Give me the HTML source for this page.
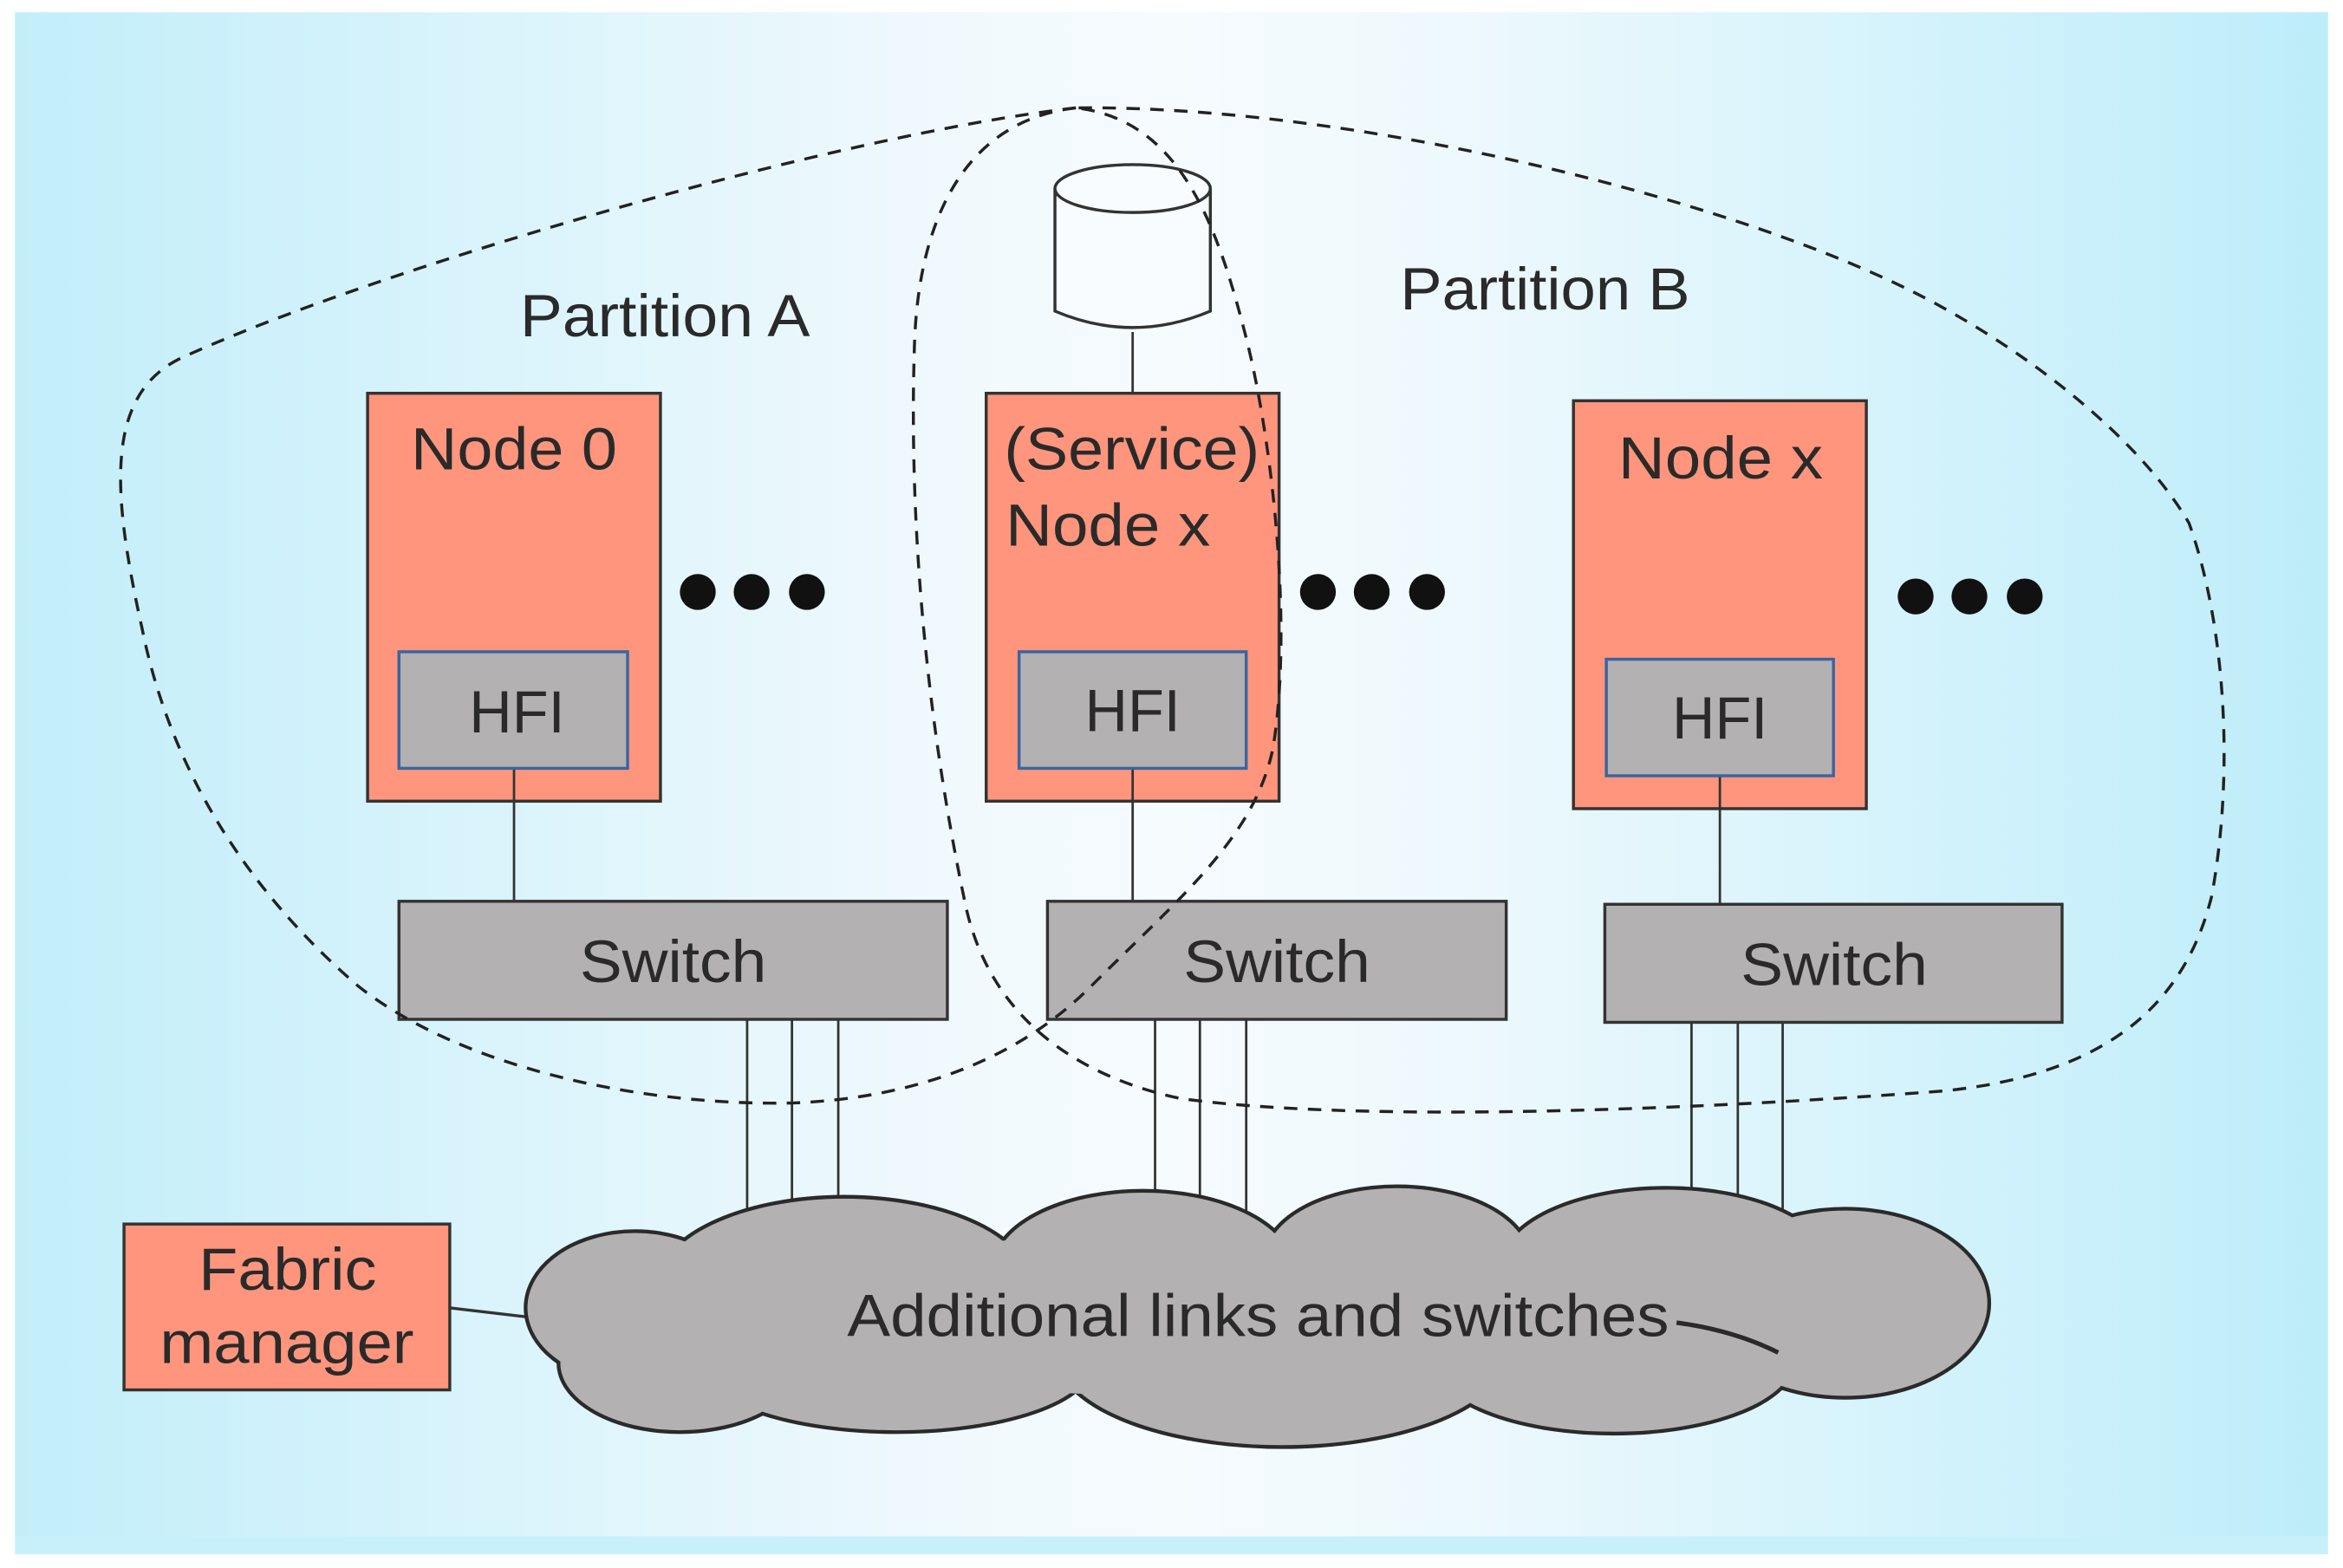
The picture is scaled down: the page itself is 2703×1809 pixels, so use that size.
<!DOCTYPE html>
<html><head><meta charset="utf-8"><style>
html,body{margin:0;padding:0;background:#fff;}
svg{display:block;}
text{font-family:"Liberation Sans",sans-serif;fill:#2a2a2a;}
</style></head><body>
<svg width="2703" height="1809" viewBox="0 0 1568 1049" xmlns="http://www.w3.org/2000/svg">
<defs>
<linearGradient id="bg" x1="0" x2="1" y1="0" y2="0">
<stop offset="0" stop-color="#c2eefa"/>
<stop offset="0.4" stop-color="#f0f9fd"/>
<stop offset="0.5" stop-color="#f6fbfe"/>
<stop offset="0.62" stop-color="#eef9fd"/>
<stop offset="1" stop-color="#bdedfa"/>
</linearGradient>
</defs>
<rect x="0" y="0" width="1568" height="1049" fill="#fff"/>
<rect x="10" y="8" width="1548" height="1020" fill="url(#bg)"/>
<rect x="10" y="1028" width="1548" height="12" fill="#c8f0fa"/>

<g stroke="#333" stroke-width="1.6" fill="none">
<line x1="500" y1="680" x2="500" y2="830"/><line x1="530" y1="680" x2="530" y2="830"/><line x1="561" y1="680" x2="561" y2="830"/>
<line x1="773" y1="680" x2="773" y2="830"/><line x1="803" y1="680" x2="803" y2="830"/><line x1="834" y1="680" x2="834" y2="830"/>
<line x1="1132" y1="683" x2="1132" y2="830"/><line x1="1163" y1="683" x2="1163" y2="830"/><line x1="1193" y1="683" x2="1193" y2="830"/>
<line x1="344" y1="514" x2="344" y2="603"/>
<line x1="758" y1="514" x2="758" y2="603"/>
<line x1="1151" y1="519" x2="1151" y2="605"/>
<line x1="758" y1="222" x2="758" y2="263"/>
<line x1="300" y1="875" x2="360" y2="882" stroke-width="2"/>
</g>

<g stroke="#2a2a2a" stroke-width="5" fill="#b3b1b2">
<ellipse cx="425" cy="875" rx="72" ry="50"/>
<ellipse cx="455" cy="912" rx="80" ry="45"/>
<ellipse cx="565" cy="862" rx="125" ry="60"/>
<ellipse cx="765" cy="850" rx="100" ry="52"/>
<ellipse cx="935" cy="843" rx="88" ry="48"/>
<ellipse cx="1115" cy="848" rx="110" ry="52"/>
<ellipse cx="1235" cy="872" rx="95" ry="62"/>
<ellipse cx="600" cy="912" rx="130" ry="45"/>
<ellipse cx="858" cy="905" rx="150" ry="62"/>
<ellipse cx="1080" cy="910" rx="120" ry="48"/>
</g>
<g fill="#b3b1b2">
<ellipse cx="425" cy="875" rx="72" ry="50"/>
<ellipse cx="455" cy="912" rx="80" ry="45"/>
<ellipse cx="565" cy="862" rx="125" ry="60"/>
<ellipse cx="765" cy="850" rx="100" ry="52"/>
<ellipse cx="935" cy="843" rx="88" ry="48"/>
<ellipse cx="1115" cy="848" rx="110" ry="52"/>
<ellipse cx="1235" cy="872" rx="95" ry="62"/>
<ellipse cx="600" cy="912" rx="130" ry="45"/>
<ellipse cx="858" cy="905" rx="150" ry="62"/>
<ellipse cx="1080" cy="910" rx="120" ry="48"/>
<ellipse cx="840" cy="880" rx="400" ry="55"/>
</g>
<path d="M1122 885 Q1160 890 1190 905" stroke="#2a2a2a" stroke-width="3" fill="none"/>
<text x="567" y="894" font-size="40" textLength="550" lengthAdjust="spacingAndGlyphs">Additional links and switches</text>

<rect x="83" y="819" width="218" height="111" fill="#fe957c" stroke="#333" stroke-width="2"/>
<text x="133" y="863" font-size="40" textLength="119" lengthAdjust="spacingAndGlyphs">Fabric</text>
<text x="107" y="912" font-size="40" textLength="170" lengthAdjust="spacingAndGlyphs">manager</text>

<g fill="#b3b1b2" stroke="#333" stroke-width="2">
<rect x="267" y="603" width="367" height="79"/>
<rect x="701" y="603" width="307" height="79"/>
<rect x="1074" y="605" width="306" height="79"/>
</g>
<text x="388" y="657" font-size="40" textLength="125" lengthAdjust="spacingAndGlyphs">Switch</text>
<text x="792" y="657" font-size="40" textLength="125" lengthAdjust="spacingAndGlyphs">Switch</text>
<text x="1165" y="659" font-size="40" textLength="125" lengthAdjust="spacingAndGlyphs">Switch</text>

<g fill="#fe957c" stroke="#333" stroke-width="2">
<rect x="246" y="263" width="196" height="273"/>
<rect x="660" y="263" width="196" height="273"/>
<rect x="1053" y="268" width="196" height="273"/>
</g>
<g stroke="#333" stroke-width="1.6">
<line x1="344" y1="514" x2="344" y2="536"/><line x1="758" y1="514" x2="758" y2="536"/><line x1="1151" y1="519" x2="1151" y2="541"/>
</g>
<g fill="#b3b1b2" stroke="#3a65a0" stroke-width="2">
<rect x="267" y="436" width="153" height="78"/>
<rect x="682" y="436" width="152" height="78"/>
<rect x="1075" y="441" width="152" height="78"/>
</g>
<text x="314" y="490" font-size="40" textLength="64" lengthAdjust="spacingAndGlyphs">HFI</text>
<text x="726" y="489" font-size="40" textLength="64" lengthAdjust="spacingAndGlyphs">HFI</text>
<text x="1119" y="494" font-size="40" textLength="64" lengthAdjust="spacingAndGlyphs">HFI</text>
<text x="275" y="314" font-size="40" textLength="138" lengthAdjust="spacingAndGlyphs">Node 0</text>
<text x="672" y="314" font-size="40" textLength="171" lengthAdjust="spacingAndGlyphs">(Service)</text>
<text x="673" y="365" font-size="40" textLength="137" lengthAdjust="spacingAndGlyphs">Node x</text>
<text x="1083" y="320" font-size="40" textLength="137" lengthAdjust="spacingAndGlyphs">Node x</text>

<path d="M706 126 L706 208 Q758 230 810 208 L810 126" fill="#f8fcfe" stroke="#333" stroke-width="2"/>
<ellipse cx="758" cy="126" rx="52" ry="16" fill="#f8fcfe" stroke="#333" stroke-width="2"/>

<g fill="#111">
<circle cx="467" cy="396" r="12"/><circle cx="503" cy="396" r="12"/><circle cx="540" cy="396" r="12"/>
<circle cx="882" cy="396" r="12"/><circle cx="918" cy="396" r="12"/><circle cx="955" cy="396" r="12"/>
<circle cx="1282" cy="399" r="12"/><circle cx="1318" cy="399" r="12"/><circle cx="1355" cy="399" r="12"/>
</g>

<text x="348" y="225" font-size="40" textLength="194" lengthAdjust="spacingAndGlyphs">Partition A</text>
<text x="937" y="207" font-size="40" textLength="194" lengthAdjust="spacingAndGlyphs">Partition B</text>

<g fill="none" stroke="#222" stroke-width="2" stroke-dasharray="9 7">
<path d="M720 72 C560 90 250 180 120 240 C70 265 75 330 95 420 C115 520 170 600 240 660 C310 715 430 740 530 738 C610 735 680 710 730 660 C790 600 840 560 852 500 C865 420 852 300 835 230 C815 150 790 80 720 72 Z"/>
<path d="M720 72 C650 80 615 140 612 230 C608 350 620 480 645 600 C660 680 720 720 790 735 C900 750 1100 745 1300 730 C1400 720 1460 680 1480 600 C1495 520 1490 420 1465 350 C1430 290 1350 230 1280 195 C1150 130 900 70 720 72 Z"/>
</g>
</svg>
</body></html>
